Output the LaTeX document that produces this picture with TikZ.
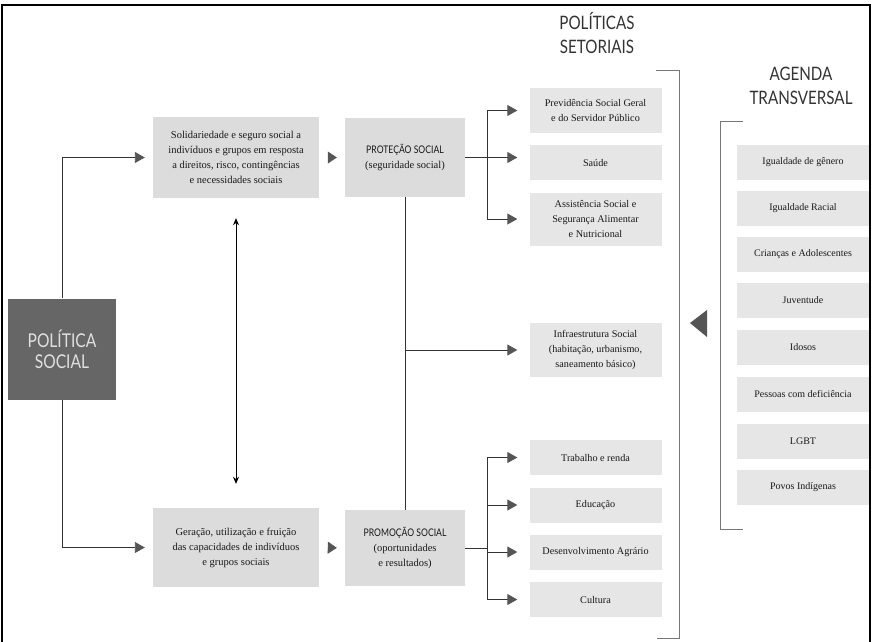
\documentclass[tikz,border=0pt]{standalone}
\usepackage{fontspec}
\setmainfont{Liberation Serif}
\newfontfamily\titlefont[FakeStretch=0.82]{Lato}
\usetikzlibrary{arrows.meta}
\definecolor{darkbox}{HTML}{666666}
\definecolor{mainbox}{HTML}{DCDCDC}
\definecolor{secbox}{HTML}{E6E6E6}
\definecolor{tipgray}{HTML}{555555}
\definecolor{brack}{HTML}{777777}
\tikzset{
  mbox/.style={fill=mainbox, draw=none, align=center, inner sep=2pt, font=\fontsize{10.5}{15}\selectfont, text=black!90},
  sbox/.style={fill=secbox, draw=none, align=center, inner sep=2pt, minimum width=132pt, font=\fontsize{10.2}{15}\selectfont, text=black!90},
  abox/.style={fill=secbox, draw=none, align=center, inner sep=2pt, minimum width=132pt, minimum height=35pt, font=\fontsize{10}{14}\selectfont, text=black!90},
  conn/.style={draw=black!80, line width=0.9pt},
  tipto/.style={-{Triangle[length=10pt,width=11pt,fill=tipgray,color=tipgray]}},
  solotip/.style={draw=tipgray, -{Triangle[length=9pt,width=12pt,fill=tipgray,color=tipgray]}},
  bracket/.style={draw=brack, line width=1pt},
  title/.style={align=center, font=\titlefont\fontsize{18.5}{24}\selectfont, text=black!80}
}
\begin{document}
\begin{tikzpicture}[x=1pt,y=-1pt]
\useasboundingbox (0,0) rectangle (872,641);
\fill[white] (0,0) rectangle (872,641);
\draw[black, line width=1.2pt] (2,645) -- (2,5) -- (870,5) -- (870,645);

% titles
\node[title] (tsec) at (597,33) {POLÍTICAS\\SETORIAIS};
\node[title] (tagd) at (801,86) {AGENDA\\TRANSVERSAL};

% left
\node[fill=darkbox, minimum width=108pt, minimum height=101pt, align=center, text=white!88!black, font=\titlefont\fontsize{19}{21}\selectfont] (ps) at (62,349) {POLÍTICA\\SOCIAL};

\node[mbox, minimum width=166pt, minimum height=81pt] (b1) at (236,157.5) {Solidariedade e seguro social a\\indivíduos e grupos em resposta\\a direitos, risco, contingências\\e necessidades sociais};
\node[mbox, minimum width=120pt, minimum height=79pt] (b2) at (405,157.5) {{\titlefont\fontsize{10.5}{12}\selectfont PROTEÇÃO SOCIAL}\\(seguridade social)};
\node[mbox, minimum width=166pt, minimum height=79pt] (b3) at (236,547.5) {Geração, utilização e fruição\\das capacidades de indivíduos\\e grupos sociais};
\node[mbox, minimum width=120pt, minimum height=76pt] (b4) at (405,548) {{\titlefont\fontsize{10.5}{12}\selectfont PROMOÇÃO SOCIAL}\\(oportunidades\\e resultados)};

% sectoral
\node[sbox, minimum height=45pt] (prev) at (595.5,110.5) {Previdência Social Geral\\e do Servidor Público};
\node[sbox, minimum height=35pt] (saude) at (595.5,162.5) {Saúde};
\node[sbox, minimum height=53pt] (assist) at (595.5,219) {Assistência Social e\\Segurança Alimentar\\e Nutricional};
\node[sbox, minimum height=54pt] (infra) at (595.5,350) {Infraestrutura Social\\(habitação, urbanismo,\\saneamento básico)};
\node[sbox, minimum height=35pt] (trab) at (595.5,457.5) {Trabalho e renda};
\node[sbox, minimum height=35pt] (edu) at (595.5,505) {Educação};
\node[sbox, minimum height=35pt] (des) at (595.5,552) {Desenvolvimento Agrário};
\node[sbox, minimum height=35pt] (cult) at (595.5,599.5) {Cultura};

% agenda
\node[abox] (a1) at (803,162.5) {Igualdade de gênero};
\node[abox] (a2) at (803,208.5) {Igualdade Racial};
\node[abox] (a3) at (803,254.5) {Crianças e Adolescentes};
\node[abox] (a4) at (803,300.5) {Juventude};
\node[abox] (a5) at (803,347.5) {Idosos};
\node[abox] (a6) at (803,394.5) {Pessoas com deficiência};
\node[abox] (a7) at (803,441) {LGBT};
\node[abox] (a8) at (803,487.5) {Povos Indígenas};

% connectors from Politica Social
\draw[conn, tipto] (ps.north) |- ([xshift=-8pt]b1.west);
\draw[conn, tipto] (ps.south) |- ([xshift=-8pt]b3.west);

% solo arrows between boxes
\draw[solotip, shorten <=9pt, shorten >=8pt] (b1.east) -- (b2.west);
\draw[solotip, shorten <=9pt, shorten >=8pt] (b3.east) -- (b4.west);

% double arrow
\draw[black, line width=0.9pt, {Stealth[length=7pt,width=6pt]}-{Stealth[length=7pt,width=6pt]}] ([yshift=-20pt]b1.south) -- ([yshift=24pt]b3.north);

% protecao branch
\coordinate (pj) at (487,157.5);
\draw[conn] (b2.east) -- (pj);
\draw[conn] (487,110.5) -- (487,219);
\draw[conn, tipto] (487,110.5) -- ([xshift=-12pt]prev.west);
\draw[conn, tipto] (pj) -- ([xshift=-12pt]saude.west |- pj);
\draw[conn, tipto] (487,219) -- ([xshift=-12pt]assist.west);

% vertical b2-b4 and infra
\draw[conn] (b2.south) -- (b4.north);
\coordinate (ij) at (b2.south |- infra.west);
\draw[conn, tipto] (ij) -- ([xshift=-12pt]infra.west);

% promocao branch
\coordinate (qj) at (487,548);
\draw[conn] (b4.east) -- (qj);
\draw[conn] (487,457.5) -- (487,599.5);
\draw[conn, tipto] (487,457.5) -- ([xshift=-12pt]trab.west);
\draw[conn, tipto] (487,505) -- ([xshift=-12pt]edu.west);
\draw[conn, tipto] (487,552) -- ([xshift=-12pt]des.west);
\draw[conn, tipto] (487,599.5) -- ([xshift=-12pt]cult.west);

% brackets
\draw[bracket] (656,70) -- (679,70) -- (679,638) -- (657,638);
\draw[bracket] (743,121) -- (720,121) -- (720,529) -- (743,529);

% left-pointing triangle
\fill[tipgray] (690,323) -- (707,310) -- (707,337) -- cycle;
\end{tikzpicture}
\end{document}
